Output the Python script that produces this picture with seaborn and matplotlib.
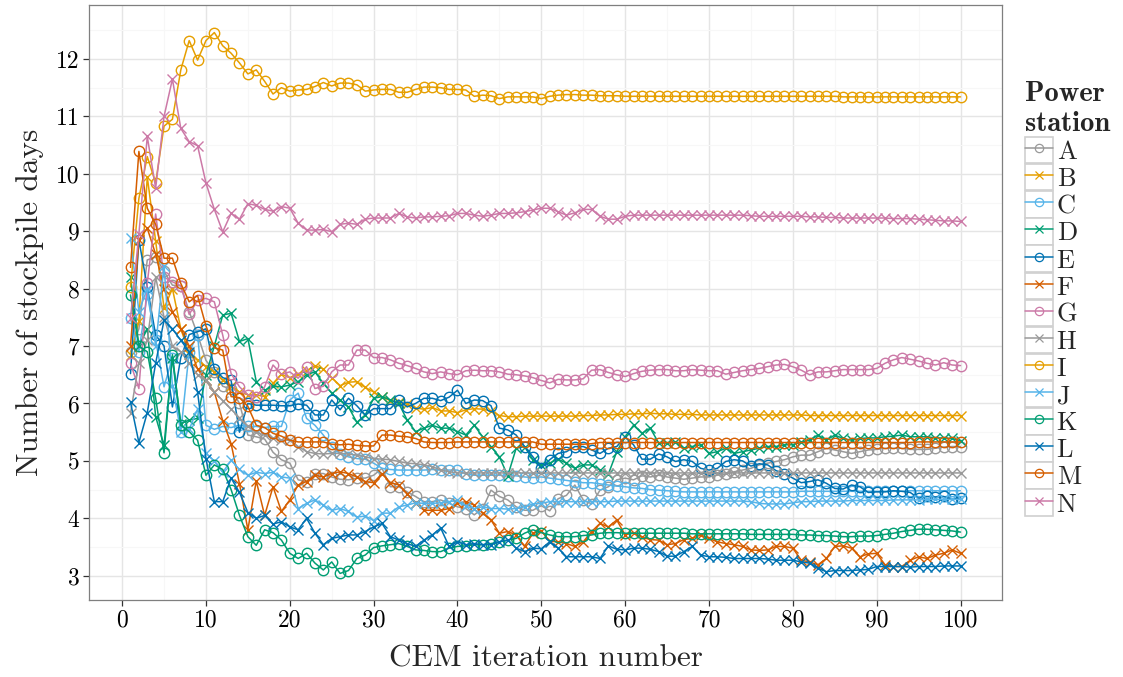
import numpy as np
import pandas as pd
import matplotlib
matplotlib.use("Agg")
import matplotlib.pyplot as plt
from matplotlib.lines import Line2D
from matplotlib.patches import Rectangle
from matplotlib.legend_handler import HandlerLine2D
from matplotlib.font_manager import FontProperties
from matplotlib.ticker import MultipleLocator
import seaborn as sns

iterations = list(range(1, 101))
stations = ["A", "B", "C", "D", "E", "F", "G", "H", "I", "J", "K", "L", "M", "N"]

A = [6.90, 7.30, 8.50, 8.55, 8.30, 8.06, 8.05, 7.60, 7.20, 6.75,
     6.55, 6.30, 6.25, 6.00, 5.45, 5.42, 5.38, 5.15, 5.02, 4.96,
     4.67, 4.64, 4.78, 4.78, 4.72, 4.68, 4.67, 4.70, 4.70, 4.75,
     4.87, 4.55, 4.55, 4.46, 4.38, 4.29, 4.29, 4.32, 4.26, 4.20,
     4.17, 4.06, 4.17, 4.49, 4.38, 4.32, 4.20, 4.14, 4.14, 4.22,
     4.13, 4.34, 4.40, 4.58, 4.32, 4.25, 4.49, 4.55, 4.67, 4.70,
     4.67, 4.74, 4.72, 4.75, 4.72, 4.70, 4.68, 4.70, 4.72, 4.72,
     4.75, 4.77, 4.81, 4.84, 4.87, 4.93, 4.96, 4.99, 5.02, 5.07,
     5.10, 5.10, 5.16, 5.22, 5.19, 5.16, 5.13, 5.16, 5.19, 5.20,
     5.22, 5.22, 5.22, 5.20, 5.20, 5.20, 5.22, 5.24, 5.25, 5.25]

B = [6.85, 7.43, 9.95, 8.83, 7.66, 8.00, 7.30, 6.87, 6.75, 6.64,
     6.55, 6.40, 6.30, 6.20, 6.15, 6.15, 6.12, 6.35, 6.51, 6.45,
     6.51, 6.57, 6.66, 6.60, 6.45, 6.31, 6.37, 6.38, 6.28, 6.20,
     6.11, 6.05, 6.02, 5.99, 5.92, 5.90, 5.93, 5.87, 5.87, 5.84,
     5.89, 5.91, 5.90, 5.87, 5.79, 5.77, 5.77, 5.78, 5.78, 5.78,
     5.78, 5.78, 5.78, 5.78, 5.79, 5.79, 5.80, 5.80, 5.81, 5.81,
     5.82, 5.82, 5.83, 5.82, 5.82, 5.81, 5.81, 5.81, 5.80, 5.80,
     5.80, 5.80, 5.80, 5.80, 5.80, 5.80, 5.80, 5.80, 5.80, 5.80,
     5.80, 5.79, 5.79, 5.79, 5.79, 5.79, 5.79, 5.79, 5.79, 5.79,
     5.79, 5.79, 5.79, 5.79, 5.79, 5.79, 5.79, 5.79, 5.79, 5.79]

C = [7.48, 6.90, 7.90, 7.10, 6.29, 6.80, 5.50, 6.90, 7.20, 5.62,
     5.55, 5.60, 5.58, 5.62, 5.60, 5.60, 5.58, 5.60, 5.60, 6.06,
     6.18, 5.74, 5.62, 5.45, 5.25, 5.12, 5.07, 5.04, 5.03, 4.96,
     4.87, 4.85, 4.84, 4.84, 4.84, 4.84, 4.85, 4.84, 4.84, 4.84,
     4.77, 4.75, 4.75, 4.75, 4.75, 4.74, 4.74, 4.72, 4.71, 4.72,
     4.70, 4.68, 4.66, 4.64, 4.62, 4.62, 4.60, 4.58, 4.56, 4.55,
     4.53, 4.52, 4.50, 4.49, 4.48, 4.47, 4.46, 4.46, 4.46, 4.46,
     4.46, 4.46, 4.46, 4.46, 4.46, 4.46, 4.46, 4.46, 4.46, 4.46,
     4.47, 4.47, 4.47, 4.47, 4.47, 4.47, 4.47, 4.47, 4.47, 4.47,
     4.47, 4.47, 4.47, 4.48, 4.48, 4.48, 4.48, 4.48, 4.48, 4.48]

D = [8.21, 7.00, 7.30, 5.77, 5.27, 6.80, 5.65, 5.71, 5.74, 6.50,
     7.00, 7.54, 7.57, 7.08, 7.13, 6.38, 6.23, 6.30, 6.29, 6.32,
     6.38, 6.50, 6.55, 6.35, 6.18, 6.06, 5.94, 5.67, 5.80, 6.09,
     6.12, 6.06, 6.00, 5.71, 5.51, 5.57, 5.62, 5.57, 5.57, 5.51,
     5.45, 5.62, 5.42, 5.25, 5.07, 4.74, 5.22, 5.25, 5.02, 4.93,
     4.96, 5.03, 4.96, 4.87, 4.93, 4.93, 4.84, 4.77, 5.16, 5.42,
     5.62, 5.48, 5.57, 5.31, 5.31, 5.33, 5.22, 5.25, 5.28, 5.13,
     5.16, 5.22, 5.13, 5.16, 5.19, 5.22, 5.25, 5.25, 5.28, 5.28,
     5.33, 5.36, 5.45, 5.36, 5.45, 5.39, 5.36, 5.39, 5.40, 5.40,
     5.42, 5.43, 5.45, 5.42, 5.42, 5.42, 5.40, 5.40, 5.39, 5.35]

E = [6.52, 8.85, 8.03, 7.19, 7.00, 5.94, 6.80, 7.20, 7.25, 7.30,
     6.60, 6.45, 6.40, 5.50, 6.00, 5.97, 5.97, 5.97, 5.96, 5.96,
     5.99, 5.97, 5.80, 5.80, 6.06, 5.89, 6.09, 5.96, 5.80, 5.91,
     5.91, 5.91, 6.06, 5.94, 6.00, 6.09, 6.09, 6.05, 6.11, 6.23,
     6.00, 6.06, 6.05, 5.96, 5.57, 5.54, 5.45, 5.25, 5.07, 4.87,
     5.02, 5.13, 5.16, 5.25, 5.25, 5.19, 5.13, 5.22, 5.25, 5.42,
     5.28, 5.03, 5.03, 5.12, 5.07, 4.99, 5.02, 4.99, 4.87, 4.84,
     4.87, 4.99, 5.02, 5.00, 4.91, 4.95, 4.93, 4.83, 4.78, 4.70,
     4.62, 4.64, 4.67, 4.61, 4.52, 4.51, 4.58, 4.55, 4.45, 4.46,
     4.46, 4.48, 4.47, 4.45, 4.35, 4.38, 4.37, 4.38, 4.33, 4.36]

F = [7.00, 8.85, 9.05, 8.60, 8.00, 7.60, 7.30, 7.00, 6.60, 6.40,
     6.20, 5.70, 5.30, 4.60, 3.80, 4.65, 4.05, 4.55, 4.12, 4.32,
     4.58, 4.64, 4.75, 4.72, 4.78, 4.81, 4.78, 4.72, 4.64, 4.62,
     4.78, 4.62, 4.58, 4.43, 4.26, 4.14, 4.14, 4.14, 4.17, 4.26,
     4.29, 4.23, 4.09, 3.97, 3.74, 3.77, 3.71, 3.51, 3.74, 3.78,
     3.60, 3.59, 3.56, 3.51, 3.59, 3.77, 3.91, 3.85, 3.97, 3.71,
     3.75, 3.67, 3.63, 3.62, 3.54, 3.56, 3.63, 3.65, 3.71, 3.65,
     3.59, 3.56, 3.54, 3.51, 3.45, 3.44, 3.45, 3.51, 3.51, 3.48,
     3.27, 3.24, 3.19, 3.30, 3.51, 3.52, 3.48, 3.33, 3.38, 3.39,
     3.19, 3.16, 3.16, 3.27, 3.33, 3.30, 3.36, 3.39, 3.45, 3.39]

G = [6.70, 6.26, 8.10, 9.30, 8.20, 8.12, 8.05, 7.55, 7.80, 7.83,
     7.77, 7.19, 6.52, 6.29, 6.15, 6.12, 6.29, 6.67, 6.51, 6.55,
     6.44, 6.64, 6.26, 6.30, 6.55, 6.67, 6.67, 6.93, 6.93, 6.80,
     6.80, 6.76, 6.70, 6.66, 6.61, 6.55, 6.52, 6.55, 6.52, 6.50,
     6.57, 6.58, 6.57, 6.57, 6.55, 6.51, 6.50, 6.48, 6.45, 6.40,
     6.36, 6.42, 6.41, 6.41, 6.43, 6.58, 6.59, 6.54, 6.50, 6.47,
     6.52, 6.56, 6.58, 6.59, 6.59, 6.57, 6.57, 6.59, 6.58, 6.57,
     6.57, 6.51, 6.54, 6.57, 6.59, 6.61, 6.64, 6.67, 6.68, 6.64,
     6.58, 6.50, 6.55, 6.55, 6.57, 6.59, 6.59, 6.59, 6.59, 6.61,
     6.70, 6.76, 6.80, 6.77, 6.74, 6.70, 6.67, 6.71, 6.67, 6.66]

H = [5.83, 6.70, 7.10, 8.20, 7.50, 7.00, 6.90, 6.70, 6.50, 6.40,
     6.20, 6.05, 5.90, 5.75, 5.60, 5.50, 5.45, 5.40, 5.36, 5.36,
     5.25, 5.16, 5.13, 5.12, 5.13, 5.13, 5.12, 5.10, 5.07, 5.04,
     5.03, 5.02, 4.99, 4.96, 4.95, 4.93, 4.90, 4.84, 4.81, 4.79,
     4.79, 4.79, 4.79, 4.79, 4.79, 4.79, 4.79, 4.79, 4.79, 4.79,
     4.79, 4.79, 4.79, 4.79, 4.79, 4.79, 4.79, 4.79, 4.79, 4.79,
     4.79, 4.79, 4.79, 4.79, 4.79, 4.79, 4.79, 4.79, 4.79, 4.79,
     4.79, 4.79, 4.79, 4.79, 4.79, 4.79, 4.79, 4.79, 4.79, 4.79,
     4.79, 4.79, 4.79, 4.79, 4.79, 4.79, 4.79, 4.79, 4.79, 4.79,
     4.79, 4.79, 4.79, 4.79, 4.79, 4.79, 4.79, 4.79, 4.79, 4.79]

I = [8.03, 9.57, 10.30, 9.84, 10.83, 10.95, 11.81, 12.32, 11.98, 12.32,
     12.46, 12.23, 12.10, 11.93, 11.74, 11.81, 11.61, 11.39, 11.50, 11.44,
     11.46, 11.47, 11.52, 11.59, 11.53, 11.58, 11.58, 11.55, 11.44, 11.46,
     11.47, 11.47, 11.42, 11.42, 11.47, 11.51, 11.51, 11.50, 11.47, 11.47,
     11.46, 11.35, 11.37, 11.36, 11.31, 11.34, 11.34, 11.34, 11.34, 11.31,
     11.35, 11.37, 11.38, 11.38, 11.37, 11.37, 11.36, 11.36, 11.36, 11.35,
     11.35, 11.35, 11.35, 11.35, 11.35, 11.35, 11.35, 11.35, 11.35, 11.35,
     11.35, 11.35, 11.35, 11.35, 11.35, 11.35, 11.35, 11.35, 11.35, 11.35,
     11.35, 11.35, 11.35, 11.35, 11.35, 11.34, 11.34, 11.34, 11.34, 11.34,
     11.34, 11.34, 11.34, 11.34, 11.34, 11.34, 11.34, 11.34, 11.34, 11.34]

J = [8.88, 7.60, 8.00, 7.00, 8.40, 6.30, 5.51, 5.55, 5.90, 5.13,
     5.00, 4.80, 5.01, 4.85, 4.75, 4.80, 4.78, 4.80, 4.72, 4.70,
     4.17, 4.26, 4.32, 4.23, 4.14, 4.17, 4.12, 4.02, 4.04, 3.96,
     4.09, 4.09, 4.20, 4.23, 4.27, 4.26, 4.26, 4.27, 4.29, 4.31,
     4.21, 4.17, 4.20, 4.17, 4.17, 4.16, 4.17, 4.20, 4.25, 4.26,
     4.29, 4.29, 4.29, 4.29, 4.29, 4.29, 4.29, 4.29, 4.30, 4.30,
     4.30, 4.30, 4.30, 4.30, 4.30, 4.30, 4.30, 4.30, 4.30, 4.30,
     4.30, 4.30, 4.30, 4.30, 4.29, 4.26, 4.25, 4.25, 4.25, 4.27,
     4.29, 4.29, 4.30, 4.30, 4.30, 4.30, 4.31, 4.31, 4.31, 4.31,
     4.31, 4.32, 4.32, 4.32, 4.32, 4.33, 4.33, 4.33, 4.33, 4.33]

K = [7.89, 7.00, 6.90, 6.09, 5.14, 6.85, 5.62, 5.51, 5.36, 4.75,
     4.93, 4.85, 4.50, 4.05, 3.68, 3.53, 3.80, 3.75, 3.62, 3.39,
     3.30, 3.39, 3.22, 3.10, 3.24, 3.04, 3.09, 3.30, 3.36, 3.49,
     3.52, 3.54, 3.56, 3.51, 3.45, 3.44, 3.42, 3.42, 3.48, 3.51,
     3.52, 3.54, 3.54, 3.56, 3.59, 3.62, 3.65, 3.74, 3.80, 3.75,
     3.71, 3.68, 3.68, 3.68, 3.70, 3.71, 3.74, 3.75, 3.75, 3.74,
     3.74, 3.74, 3.74, 3.74, 3.74, 3.74, 3.74, 3.73, 3.73, 3.73,
     3.73, 3.73, 3.73, 3.73, 3.72, 3.72, 3.72, 3.72, 3.72, 3.72,
     3.71, 3.71, 3.70, 3.70, 3.69, 3.68, 3.68, 3.69, 3.69, 3.70,
     3.72, 3.74, 3.77, 3.79, 3.81, 3.81, 3.80, 3.79, 3.78, 3.76]

L = [6.02, 5.32, 5.84, 6.70, 7.45, 7.30, 7.10, 6.90, 6.20, 5.04,
     4.29, 4.29, 4.70, 4.45, 4.10, 4.00, 4.05, 3.90, 3.94, 3.85,
     3.80, 4.00, 3.74, 3.54, 3.65, 3.68, 3.71, 3.71, 3.77, 3.85,
     3.91, 3.68, 3.62, 3.56, 3.51, 3.62, 3.71, 3.83, 3.51, 3.59,
     3.54, 3.56, 3.54, 3.54, 3.59, 3.62, 3.48, 3.42, 3.48, 3.47,
     3.59, 3.48, 3.33, 3.33, 3.33, 3.33, 3.30, 3.52, 3.46, 3.45,
     3.48, 3.48, 3.46, 3.42, 3.34, 3.34, 3.42, 3.51, 3.36, 3.33,
     3.33, 3.32, 3.30, 3.30, 3.30, 3.30, 3.29, 3.27, 3.27, 3.27,
     3.24, 3.22, 3.13, 3.07, 3.09, 3.09, 3.09, 3.10, 3.11, 3.16,
     3.16, 3.16, 3.16, 3.15, 3.16, 3.16, 3.16, 3.17, 3.17, 3.17]

M = [8.37, 10.39, 9.40, 9.12, 8.53, 8.53, 8.09, 7.77, 7.88, 7.35,
     6.97, 6.93, 6.12, 6.10, 5.95, 5.62, 5.58, 5.48, 5.43, 5.36,
     5.33, 5.33, 5.33, 5.33, 5.29, 5.28, 5.29, 5.27, 5.26, 5.26,
     5.45, 5.45, 5.43, 5.42, 5.39, 5.33, 5.32, 5.32, 5.32, 5.33,
     5.33, 5.33, 5.33, 5.33, 5.33, 5.33, 5.33, 5.33, 5.33, 5.29,
     5.29, 5.29, 5.29, 5.29, 5.29, 5.30, 5.32, 5.32, 5.32, 5.32,
     5.32, 5.32, 5.32, 5.32, 5.32, 5.32, 5.32, 5.32, 5.32, 5.32,
     5.32, 5.32, 5.32, 5.32, 5.32, 5.32, 5.32, 5.32, 5.32, 5.32,
     5.32, 5.32, 5.32, 5.32, 5.32, 5.32, 5.32, 5.32, 5.32, 5.32,
     5.32, 5.32, 5.32, 5.32, 5.33, 5.33, 5.33, 5.33, 5.33, 5.33]

N = [7.48, 8.95, 10.65, 9.75, 11.00, 11.65, 10.79, 10.56, 10.49, 9.84,
     9.38, 8.99, 9.31, 9.21, 9.48, 9.45, 9.38, 9.35, 9.43, 9.40,
     9.14, 9.02, 9.02, 9.03, 8.99, 9.12, 9.14, 9.12, 9.21, 9.23,
     9.23, 9.23, 9.31, 9.25, 9.23, 9.25, 9.25, 9.26, 9.27, 9.31,
     9.31, 9.28, 9.26, 9.28, 9.31, 9.31, 9.32, 9.34, 9.37, 9.40,
     9.40, 9.34, 9.28, 9.32, 9.38, 9.38, 9.26, 9.21, 9.21, 9.26,
     9.28, 9.28, 9.28, 9.28, 9.28, 9.28, 9.28, 9.28, 9.28, 9.28,
     9.28, 9.28, 9.28, 9.28, 9.27, 9.26, 9.26, 9.26, 9.26, 9.26,
     9.26, 9.25, 9.25, 9.24, 9.24, 9.23, 9.23, 9.23, 9.23, 9.23,
     9.23, 9.22, 9.22, 9.22, 9.21, 9.20, 9.19, 9.18, 9.18, 9.17]

station_values = {"A": A, "B": B, "C": C, "D": D, "E": E, "F": F, "G": G,
                  "H": H, "I": I, "J": J, "K": K, "L": L, "M": M, "N": N}

# colour-blind friendly palette, each colour shared by a circle and a cross series
station_colours = {"A": "#999999", "B": "#E69F00", "C": "#56B4E9", "D": "#009E73",
                   "E": "#0072B2", "F": "#D55E00", "G": "#CC79A7", "H": "#999999",
                   "I": "#E69F00", "J": "#56B4E9", "K": "#009E73", "L": "#0072B2",
                   "M": "#D55E00", "N": "#CC79A7"}
station_markers = {s: ("o" if k % 2 == 0 else "x") for k, s in enumerate(stations)}

df = pd.DataFrame({
    "iteration": iterations * len(stations),
    "days": sum((station_values[s] for s in stations), []),
    "station": np.repeat(stations, len(iterations)),
})

sns.set_theme(style="white")
plt.rcParams["font.family"] = ["cmr10", "DejaVu Serif"]
plt.rcParams["axes.unicode_minus"] = False

fig, ax = plt.subplots(figsize=(11.23, 6.77), dpi=100)
fig.subplots_adjust(left=89 / 1123, right=1002 / 1123, top=1 - 5 / 677, bottom=1 - 600 / 677)

for s in stations:
    col = station_colours[s]
    sns.lineplot(data=df[df["station"] == s], x="iteration", y="days",
                 color=col, marker=station_markers[s], mfc="none", mec=col,
                 mew=1.0, ms=7.5, lw=1.1, estimator=None, sort=False,
                 legend=False, ax=ax)

ax.set_xlim(-3.95, 104.95)
ax.set_ylim(2.577, 12.94)
ax.set_xticks(range(0, 101, 10))
ax.set_xticklabels([str(v) for v in range(0, 101, 10)])
ax.set_yticks(range(3, 13))
ax.set_yticklabels([str(v) for v in range(3, 13)])
ax.xaxis.set_minor_locator(MultipleLocator(5))
ax.yaxis.set_minor_locator(MultipleLocator(0.5))
ax.grid(which="major", color="#E5E5E5", lw=1.0)
ax.grid(which="minor", color="#F7F7F7", lw=0.8)
ax.set_axisbelow(True)
for sp in ax.spines.values():
    sp.set_color("#7F7F7F")
    sp.set_linewidth(0.9)
ax.tick_params(which="major", length=4, width=0.9, color="#333333",
               labelsize=17, pad=3, labelcolor="black",
               bottom=True, left=True)
ax.tick_params(which="minor", length=0)
ax.set_xlabel("CEM iteration number", fontsize=22.5, labelpad=9)
ax.set_ylabel("Number of stockpile days", fontsize=22.5, labelpad=8)


class KeyBoxHandler(HandlerLine2D):
    """Legend key drawn inside a light grey square, as in ggplot's theme_bw."""

    def create_artists(self, legend, orig_handle, xdescent, ydescent,
                       width, height, fontsize, trans):
        box = Rectangle((-xdescent, -ydescent), width, height,
                        facecolor="white", edgecolor="#D0D0D0", lw=1.2,
                        transform=trans)
        arts = super().create_artists(legend, orig_handle, xdescent, ydescent,
                                      width, height, fontsize, trans)
        return [box] + arts


handles = [Line2D([], [], color=station_colours[s], marker=station_markers[s],
                  mfc="none", mec=station_colours[s], ms=6, mew=0.9, lw=1.1)
           for s in stations]
leg = fig.legend(handles, stations, loc="upper left",
                 bbox_to_anchor=(1025 / 1123, 1 - 81 / 677),
                 frameon=False, title="Power\nstation",
                 title_fontproperties=FontProperties(family="cmb10", size=20.5),
                 prop=FontProperties(family="cmr10", size=19),
                 handler_map={Line2D: KeyBoxHandler()},
                 handlelength=1.05, handleheight=1.16, labelspacing=0.0,
                 handletextpad=0.15, borderpad=0, borderaxespad=0,
                 alignment="left")

fig.savefig("out.png", dpi=100)
